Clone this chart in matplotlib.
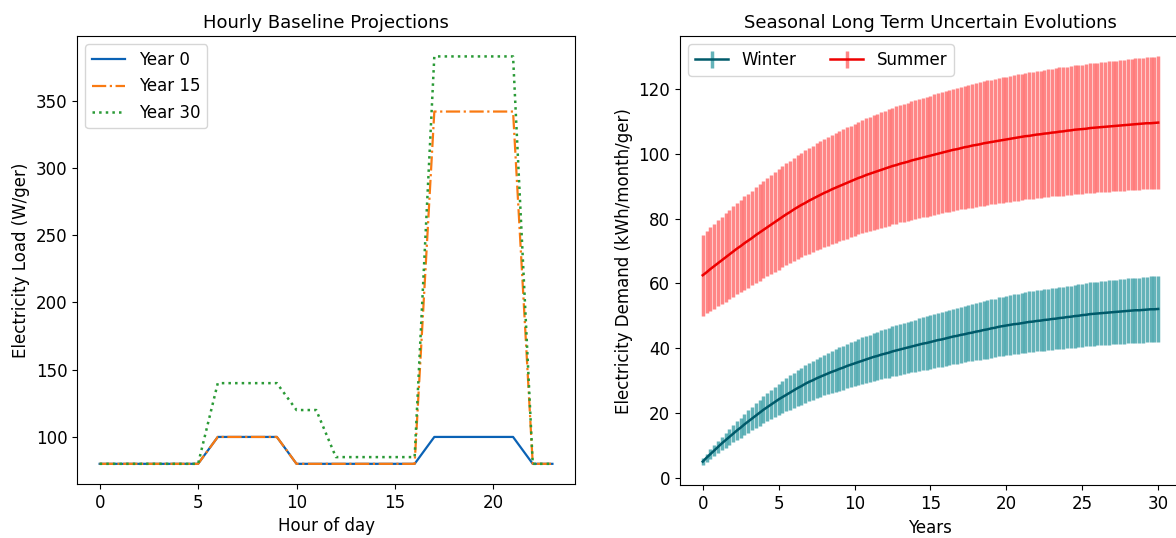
import matplotlib
matplotlib.use("Agg")
import matplotlib.pyplot as plt
import numpy as np

# ---- left panel: hourly baseline load (W/ger) ----
HOURS = list(range(24))
YEAR_0 = [80, 80, 80, 80, 80, 80, 100, 100, 100, 100, 80, 80,
          80, 80, 80, 80, 80, 100, 100, 100, 100, 100, 80, 80]
YEAR_15 = [80, 80, 80, 80, 80, 80, 100, 100, 100, 100, 80, 80,
           80, 80, 80, 80, 80, 342, 342, 342, 342, 342, 80, 80]
YEAR_30 = [80, 80, 80, 80, 80, 80, 140, 140, 140, 140, 120, 120,
           85, 85, 85, 85, 85, 383, 383, 383, 383, 383, 80, 80]

# ---- right panel: quarterly samples over 30 years (kWh/month/ger) ----
YEARS = np.arange(121) / 4.0

WINTER_MEAN = [
    5.0, 6.2, 7.3, 8.4, 9.5, 10.6, 11.6, 12.6, 13.6, 14.6, 15.5, 16.5,
    17.4, 18.3, 19.2, 20.1, 21.0, 21.8, 22.6, 23.4, 24.2, 24.9, 25.6, 26.3,
    27.0, 27.7, 28.3, 29.0, 29.6, 30.1, 30.7, 31.2, 31.7, 32.2, 32.7, 33.1,
    33.6, 34.0, 34.5, 34.9, 35.3, 35.7, 36.1, 36.5, 36.9, 37.3, 37.6, 38.0,
    38.3, 38.6, 39.0, 39.3, 39.6, 39.9, 40.2, 40.5, 40.8, 41.1, 41.4, 41.6,
    41.9, 42.2, 42.5, 42.7, 43.0, 43.3, 43.6, 43.8, 44.1, 44.3, 44.6, 44.8,
    45.1, 45.3, 45.6, 45.8, 46.1, 46.3, 46.6, 46.8, 47.0, 47.2, 47.4, 47.5,
    47.7, 47.9, 48.1, 48.2, 48.4, 48.5, 48.7, 48.8, 49.0, 49.1, 49.3, 49.4,
    49.6, 49.7, 49.9, 50.0, 50.2, 50.3, 50.5, 50.6, 50.7, 50.8, 50.9, 51.0,
    51.1, 51.2, 51.3, 51.4, 51.5, 51.6, 51.7, 51.7, 51.8, 51.9, 52.0, 52.0,
    52.1,
]
WINTER_ERR = [
    1.0, 1.2, 1.5, 1.7, 1.9, 2.1, 2.3, 2.5, 2.7, 2.9, 3.1, 3.3,
    3.5, 3.7, 3.9, 4.0, 4.2, 4.4, 4.5, 4.7, 4.8, 5.0, 5.1, 5.3,
    5.4, 5.5, 5.7, 5.8, 5.9, 6.0, 6.1, 6.2, 6.3, 6.4, 6.5, 6.6,
    6.7, 6.8, 6.9, 6.9, 7.0, 7.1, 7.2, 7.2, 7.3, 7.4, 7.5, 7.5,
    7.6, 7.7, 7.7, 7.8, 7.8, 7.9, 7.9, 8.0, 8.0, 8.1, 8.1, 8.2,
    8.2, 8.3, 8.3, 8.4, 8.4, 8.5, 8.5, 8.6, 8.6, 8.7, 8.7, 8.8,
    8.8, 8.9, 8.9, 9.0, 9.0, 9.0, 9.1, 9.1, 9.1, 9.2, 9.2, 9.3,
    9.3, 9.3, 9.4, 9.4, 9.4, 9.4, 9.5, 9.5, 9.5, 9.5, 9.6, 9.6,
    9.6, 9.6, 9.7, 9.7, 9.7, 9.7, 9.8, 9.8, 9.8, 9.8, 9.9, 9.9,
    9.9, 9.9, 10.0, 10.0, 10.0, 10.0, 10.1, 10.1, 10.1, 10.1, 10.2, 10.2,
    10.2,
]
SUMMER_MEAN = [
    62.5, 63.4, 64.4, 65.3, 66.2, 67.1, 68.0, 68.9, 69.8, 70.7, 71.5, 72.4,
    73.2, 74.0, 74.9, 75.7, 76.5, 77.3, 78.1, 78.9, 79.7, 80.5, 81.3, 82.0,
    82.8, 83.5, 84.2, 84.8, 85.5, 86.1, 86.7, 87.3, 87.9, 88.4, 89.0, 89.5,
    90.0, 90.5, 91.0, 91.5, 92.0, 92.5, 92.9, 93.4, 93.8, 94.2, 94.6, 95.0,
    95.4, 95.8, 96.2, 96.5, 96.9, 97.2, 97.5, 97.9, 98.2, 98.5, 98.8, 99.1,
    99.4, 99.7, 100.0, 100.3, 100.6, 100.9, 101.2, 101.4, 101.7, 102.0, 102.2, 102.5,
    102.7, 102.9, 103.2, 103.4, 103.6, 103.8, 104.0, 104.2, 104.4, 104.6, 104.8, 105.0,
    105.2, 105.4, 105.5, 105.7, 105.9, 106.0, 106.2, 106.3, 106.5, 106.6, 106.8, 106.9,
    107.1, 107.2, 107.4, 107.5, 107.6, 107.7, 107.9, 108.0, 108.1, 108.2, 108.3, 108.4,
    108.5, 108.6, 108.7, 108.8, 108.9, 109.0, 109.1, 109.2, 109.3, 109.4, 109.4, 109.5,
    109.6,
]
SUMMER_ERR = [
    12.5, 12.7, 12.9, 13.1, 13.3, 13.5, 13.7, 13.8, 14.0, 14.1, 14.3, 14.4,
    14.5, 14.6, 14.8, 14.9, 15.0, 15.1, 15.3, 15.4, 15.5, 15.6, 15.7, 15.8,
    15.9, 16.0, 16.1, 16.2, 16.3, 16.4, 16.5, 16.6, 16.7, 16.8, 16.9, 16.9,
    17.0, 17.1, 17.2, 17.2, 17.3, 17.4, 17.5, 17.5, 17.6, 17.7, 17.8, 17.8,
    17.9, 18.0, 18.0, 18.1, 18.1, 18.2, 18.2, 18.3, 18.3, 18.4, 18.4, 18.5,
    18.5, 18.6, 18.6, 18.7, 18.7, 18.8, 18.8, 18.9, 18.9, 19.0, 19.0, 19.1,
    19.1, 19.1, 19.2, 19.2, 19.2, 19.3, 19.3, 19.4, 19.4, 19.4, 19.5, 19.5,
    19.5, 19.5, 19.6, 19.6, 19.6, 19.6, 19.7, 19.7, 19.7, 19.7, 19.8, 19.8,
    19.8, 19.8, 19.9, 19.9, 19.9, 19.9, 20.0, 20.0, 20.0, 20.0, 20.1, 20.1,
    20.1, 20.1, 20.2, 20.2, 20.2, 20.2, 20.3, 20.3, 20.3, 20.3, 20.4, 20.4,
    20.4,
]

fig = plt.figure(figsize=(11.76, 5.38), dpi=100)
ax1 = fig.add_axes([0.0655, 0.100, 0.4235, 0.833])
ax2 = fig.add_axes([0.5782, 0.098, 0.426, 0.835])

ax1.plot(HOURS, YEAR_0, "-", color="#0a62b5", lw=1.6, label="Year 0")
ax1.plot(HOURS, YEAR_15, "-.", color="#f97a12", lw=1.6, label="Year 15")
ax1.plot(HOURS, YEAR_30, ":", color="#2a9a36", lw=1.8, label="Year 30")
ax1.set_title("Hourly Baseline Projections", fontsize=13)
ax1.set_xlabel("Hour of day", fontsize=12)
ax1.set_ylabel("Electricity Load (W/ger)", fontsize=12)
ax1.set_xticks([0, 5, 10, 15, 20])
ax1.tick_params(labelsize=12)
ax1.legend(loc="upper left", fontsize=12)

# error bars: thin stripes per sample, mean line on top
ax2.errorbar(YEARS, WINTER_MEAN, yerr=WINTER_ERR, fmt="-", color="#005a6a", lw=1.8,
             ecolor=(0.1, 0.56, 0.6, 0.68), elinewidth=2.5, label="Winter")
ax2.errorbar(YEARS, SUMMER_MEAN, yerr=SUMMER_ERR, fmt="-", color="#ee0000", lw=1.8,
             ecolor=(1.0, 0.3, 0.3, 0.68), elinewidth=2.5, label="Summer")
ax2.set_title("Seasonal Long Term Uncertain Evolutions", fontsize=13)
ax2.set_xlabel("Years", fontsize=12)
ax2.set_ylabel("Electricity Demand (kWh/month/ger)", fontsize=12)
ax2.set_xticks([0, 5, 10, 15, 20, 25, 30])
ax2.tick_params(labelsize=12)
ax2.legend(loc="upper left", ncol=2, fontsize=12)

fig.savefig("out.png", dpi=100)
